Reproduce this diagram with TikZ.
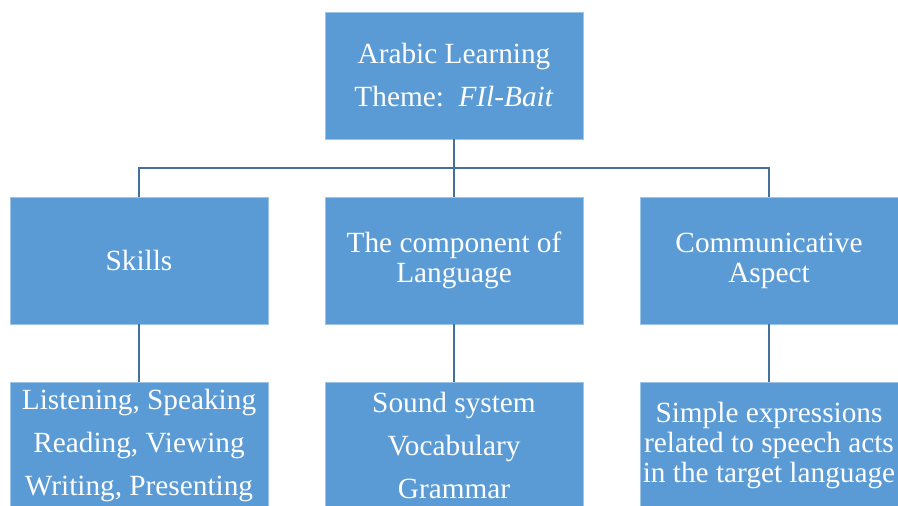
\documentclass[tikz,border=0pt]{standalone}
\usepackage{fontspec}
\setmainfont{Liberation Serif}
\usepackage{tikz}
\definecolor{boxblue}{HTML}{5B9BD5}
\definecolor{boxedge}{HTML}{9DC3E6}
\definecolor{linkblue}{HTML}{41719C}
\tikzset{
    topic/.style={fill=boxblue, draw=boxedge, line width=0.6pt, text=white,
        minimum width=7.74cm, minimum height=3.81cm, inner sep=1pt, align=center,
        font=\fontsize{25}{36.7}\selectfont},
    tight/.style={font=\fontsize{25}{25.6}\selectfont},
    link/.style={draw=linkblue, line width=2.4pt}
}

\begin{document}
\begin{tikzpicture}

        \useasboundingbox (0,0) rectangle (26.94,15.15);
        \clip (0,0) rectangle (26.94,15.15);

        \node[topic] (theme) at (13.62, 12.885) {Arabic Learning\\Theme:~~\textit{FIl-Bait}};

        \node[topic] (skills) at (4.17, 7.335) {Skills};
        \node[topic, tight] (component) at (13.62, 7.335) {The component of\\Language};
        \node[topic, tight] (aspect) at (23.07, 7.335) {Communicative\\Aspect};

        \node[topic] (skillslist) at (4.17, 1.785) {Listening, Speaking\\Reading, Viewing\\Writing, Presenting};
        \node[topic] (componentlist) at (13.62, 1.785) {Sound system\\Vocabulary\\Grammar};
        \node[topic, tight] (aspectlist) at (23.07, 1.785) {Simple expressions\\related to speech acts\\in the target language};

        \coordinate (bar) at (13.62, 10.11);
        \draw[link] (theme) -- (bar);
        \draw[link] (bar) -- (component);
        \draw[link] (skills) |- (bar) -| (aspect);

        \draw[link] (skills) -- (skillslist);
        \draw[link] (component) -- (componentlist);
        \draw[link] (aspect) -- (aspectlist);

    \end{tikzpicture}
\end{document}
